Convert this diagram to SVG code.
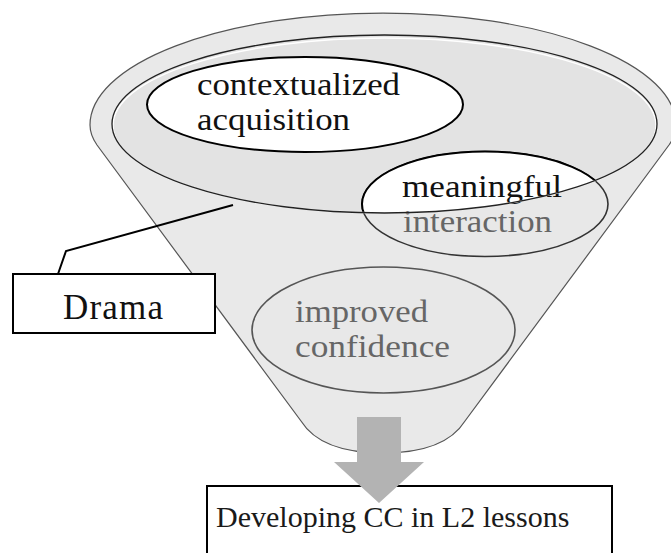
<svg xmlns="http://www.w3.org/2000/svg" width="671" height="553" viewBox="0 0 671 553">
<style>
.serif{font-family:"Liberation Serif","Times New Roman",serif;}
.lbl{font-size:31.5px;}
.blk{fill:#111;}
.gry{fill:#666;}
.box{fill:#fff;stroke:#000;stroke-width:2;}
</style>
<defs>
<clipPath id="innerClip"><ellipse cx="384.5" cy="124" rx="272.5" ry="89"/></clipPath>
</defs>
<rect width="671" height="553" fill="#fff"/>
<g id="funnel">
<path d="M90,125 A293,112 0 0 1 676,125 Q676,135 669,145 L465,421 C450,445 420,453 383,453 C346,453 316,445 301,421 L97,145 Q90,135 90,125 Z" fill="#e9e9e9" stroke="#555" stroke-width="1.2"/>
<ellipse cx="384.5" cy="124" rx="272.5" ry="89" fill="#e3e3e3"/>
</g>
<g id="improved-confidence">
<ellipse cx="383.5" cy="330" rx="131.5" ry="63" fill="#e8e8e8" stroke="#555" stroke-width="1.6"/>
<text class="serif lbl gry" x="295" y="322" textLength="133" lengthAdjust="spacingAndGlyphs">improved</text>
<text class="serif lbl gry" x="295" y="357" textLength="155" lengthAdjust="spacingAndGlyphs">confidence</text>
</g>
<g id="meaningful-interaction">
<ellipse cx="485" cy="204" rx="123" ry="52.5" fill="#e8e8e8" stroke="#333" stroke-width="1.6"/>
<g clip-path="url(#innerClip)">
<ellipse cx="485" cy="204" rx="123" ry="52.5" fill="#fff" stroke="#000" stroke-width="2"/>
</g>
<text class="serif lbl blk" x="402" y="197" textLength="160" lengthAdjust="spacingAndGlyphs">meaningful</text>
<text class="serif lbl gry" x="403" y="232" textLength="149" lengthAdjust="spacingAndGlyphs">interaction</text>
</g>
<g id="contextualized-acquisition">
<ellipse cx="305" cy="104.5" rx="158" ry="47.5" fill="#fff" stroke="#000" stroke-width="2"/>
<text class="serif lbl blk" x="197" y="95" textLength="203" lengthAdjust="spacingAndGlyphs">contextualized</text>
<text class="serif lbl blk" x="197" y="130" textLength="153" lengthAdjust="spacingAndGlyphs">acquisition</text>
</g>
<g id="funnel-rim">
<ellipse cx="384.5" cy="125.5" rx="271.5" ry="87.5" fill="none" stroke="#fff" stroke-width="1.5"/>
<ellipse cx="384.5" cy="124" rx="272.5" ry="89" fill="none" stroke="#222" stroke-width="1.3"/>
</g>
<g id="drama">
<rect class="box" x="13" y="274" width="202" height="59"/>
<text class="serif blk" x="63" y="319" font-size="35" textLength="100">Drama</text>
</g>
<g id="developing-cc">
<rect class="box" x="207" y="486" width="405" height="80"/>
<text class="serif" x="216" y="527" font-size="30" fill="#1a1a1a">Developing CC in L2 lessons</text>
</g>
<g id="connectors">
<polyline points="58,274 66,251 233,205" fill="none" stroke="#000" stroke-width="2"/>
<path d="M357,417 H401 V462 H424 L379,503 L334,462 H357 Z" fill="#b3b3b3"/>
</g>
</svg>
